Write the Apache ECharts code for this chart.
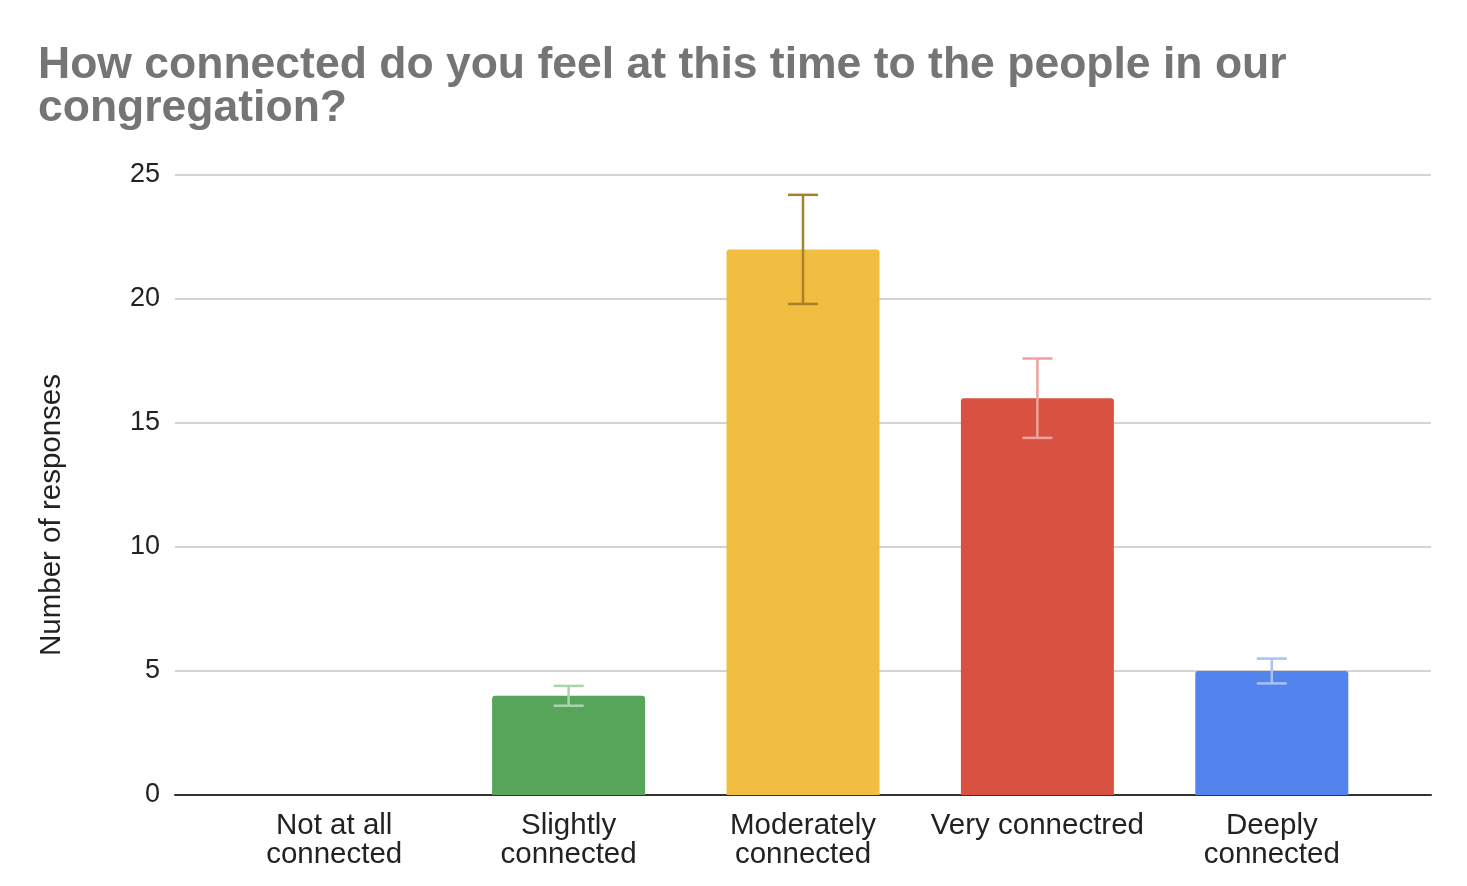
<!DOCTYPE html>
<html>
<head>
<meta charset="utf-8">
<script src="https://cdn.jsdelivr.net/npm/echarts@6/dist/echarts.min.js"></script>
<style>
  html, body { margin: 0; padding: 0; background: #fff; }
  #chart { width: 1467px; height: 886px; }
</style>
</head>
<body>
<div id="chart"></div>
<script>
const titleText = 'How connected do you feel at this time to the people in our\ncongregation?';
const categories = [
  'Not at all\nconnected',
  'Slightly\nconnected',
  'Moderately\nconnected',
  'Very connectred',
  'Deeply\nconnected',
];
const responses = [0, 4, 22, 16, 5];
const errLow = [0, 3.6, 19.8, 14.4, 4.5];
const errHigh = [0, 4.4, 24.2, 17.6, 5.5];
const barColors = ['#4285f4', '#57a55a', '#f1be42', '#d95140', '#5383ec'];
const errColors = ['#a0c0f8', '#a9d5ab', '#a6832a', '#eea39c', '#a9c1f5'];
const yTicks = { min: 0, max: 25, interval: 5 };

const FONT = '"Liberation Sans", Arial, sans-serif';
const chart = echarts.init(document.getElementById('chart'), null, { renderer: 'canvas' });

const errData = categories
  .map((c, i) => [i, errLow[i], errHigh[i]])
  .filter((d) => d[2] > d[1]);

const option = {
  animation: false,
  textStyle: { fontFamily: FONT },
  title: {
    text: titleText,
    left: 38,
    top: 44,
    padding: 0,
    textStyle: {
      fontFamily: FONT,
      fontSize: 44.5,
      fontWeight: 'bold',
      color: '#757575',
      lineHeight: 43,
    },
  },
  graphic: [{
    type: 'text',
    x: 52,
    y: 515,
    rotation: Math.PI / 2,
    style: {
      text: 'Number of responses',
      fontFamily: FONT,
      fontSize: 29.5,
      fill: '#222',
      align: 'center',
      verticalAlign: 'middle',
    },
  }],
  grid: [
    { left: 175, right: 36, top: 175, bottom: 91 },
    { left: 217, right: 78, top: 175, bottom: 91 },
  ],
  xAxis: [
    {
      gridIndex: 0,
      type: 'category',
      data: [''],
      axisLine: { show: true, lineStyle: { color: '#333', width: 2 } },
      axisTick: { show: false },
      axisLabel: { show: false },
    },
    {
      gridIndex: 1,
      type: 'category',
      data: categories,
      axisLine: { show: false },
      axisTick: { show: false },
      axisLabel: {
        fontFamily: FONT,
        fontSize: 29.5,
        lineHeight: 29,
        color: '#222',
        margin: 16,
        interval: 0,
      },
    },
  ],
  yAxis: [
    {
      gridIndex: 0,
      type: 'value',
      min: yTicks.min,
      max: yTicks.max,
      interval: yTicks.interval,
      axisLine: { show: false },
      axisTick: { show: false },
      splitLine: { lineStyle: { color: '#d3d3d3', width: 2 } },
      axisLabel: {
        fontFamily: FONT,
        fontSize: 27,
        color: '#222',
        margin: 15,
      },
    },
    {
      gridIndex: 1,
      type: 'value',
      min: yTicks.min,
      max: yTicks.max,
      interval: yTicks.interval,
      show: false,
    },
  ],
  series: [
    {
      type: 'bar',
      xAxisIndex: 1,
      yAxisIndex: 1,
      barWidth: 153,
      data: responses.map((v, i) => ({
        value: v,
        itemStyle: { color: barColors[i], borderRadius: [3, 3, 0, 0] },
      })),
    },
    {
      type: 'custom',
      xAxisIndex: 1,
      yAxisIndex: 1,
      z: 5,
      data: errData,
      renderItem: (params, api) => {
        const idx = api.value(0);
        const lo = api.coord([idx, api.value(1)]);
        const hi = api.coord([idx, api.value(2)]);
        const half = 15;
        const style = { stroke: errColors[idx], lineWidth: 2.5 };
        return {
          type: 'group',
          children: [
            { type: 'line', shape: { x1: hi[0], y1: hi[1], x2: lo[0], y2: lo[1] }, style },
            { type: 'line', shape: { x1: hi[0] - half, y1: hi[1], x2: hi[0] + half, y2: hi[1] }, style },
            { type: 'line', shape: { x1: lo[0] - half, y1: lo[1], x2: lo[0] + half, y2: lo[1] }, style },
          ],
        };
      },
    },
  ],
};

chart.setOption(option);
</script>
</body>
</html>
